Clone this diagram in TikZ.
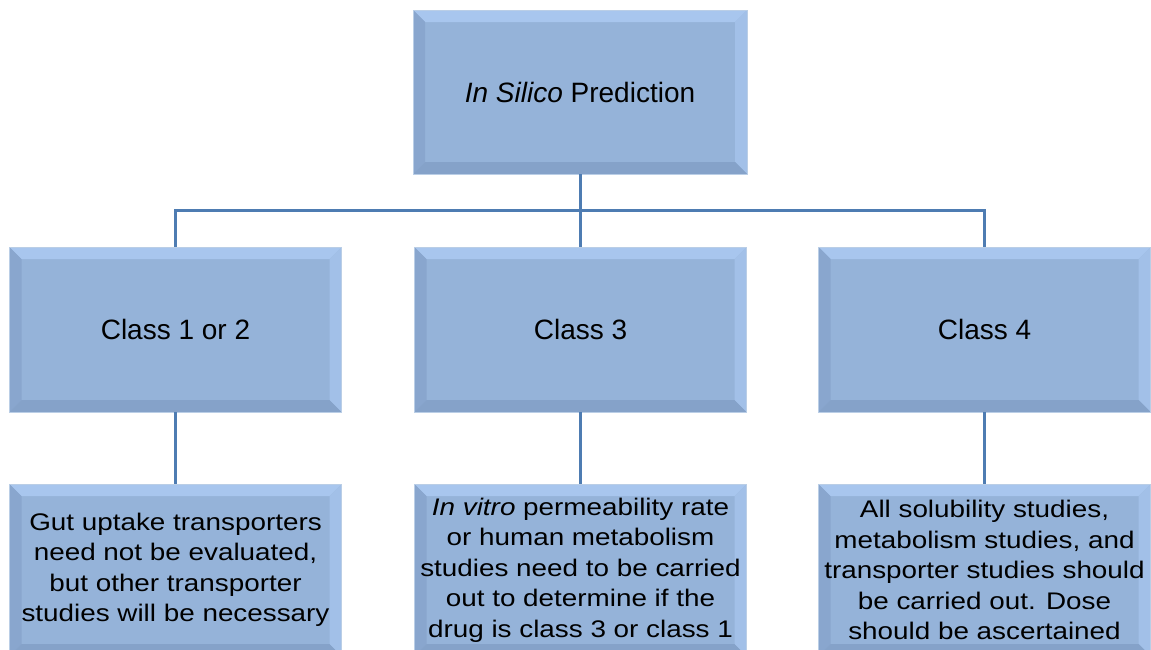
\documentclass[tikz,border=0pt]{standalone}
\usepackage{fontspec}
\setmainfont{Liberation Sans}
\newfontfamily\notefont[FakeStretch=1.16]{Liberation Sans}
\usetikzlibrary{positioning, calc}
\definecolor{bxFill}{HTML}{95B3D9}
\definecolor{bxLight}{HTML}{A8C6EE}
\definecolor{bxSide}{HTML}{A2C0E8}
\definecolor{bxDark}{HTML}{89A6CE}
\definecolor{bxShade}{HTML}{85A2C9}
\definecolor{bxEdge}{HTML}{BACEE6}
\definecolor{bxLink}{HTML}{4E7CB2}
\newcommand{\bv}{12pt}
\tikzset{
  bevel/.style={
    draw=bxEdge, line width=0.8pt, fill=bxFill, align=center, inner sep=2pt,
    path picture={
      \fill[bxLight] (path picture bounding box.north west) -- (path picture bounding box.north east)
        -- ([shift={(-\bv,-\bv)}]path picture bounding box.north east) -- ([shift={(\bv,-\bv)}]path picture bounding box.north west) -- cycle;
      \fill[bxSide] (path picture bounding box.north east) -- (path picture bounding box.south east)
        -- ([shift={(-\bv,\bv)}]path picture bounding box.south east) -- ([shift={(-\bv,-\bv)}]path picture bounding box.north east) -- cycle;
      \fill[bxDark] (path picture bounding box.north west) -- (path picture bounding box.south west)
        -- ([shift={(\bv,\bv)}]path picture bounding box.south west) -- ([shift={(\bv,-\bv)}]path picture bounding box.north west) -- cycle;
      \fill[bxShade] (path picture bounding box.south west) -- (path picture bounding box.south east)
        -- ([shift={(-\bv,\bv)}]path picture bounding box.south east) -- ([shift={(\bv,\bv)}]path picture bounding box.south west) -- cycle;
    }
  },
  predbox/.style={bevel, minimum width=334pt, minimum height=164pt, font=\fontsize{28}{32}\selectfont},
  classbox/.style={bevel, minimum width=332pt, minimum height=165pt, font=\fontsize{28}{32}\selectfont},
  notebox/.style={bevel, minimum width=332pt, minimum height=172pt, font=\notefont\fontsize{24}{30.5}\selectfont},
  link/.style={draw=bxLink, line width=3pt}
}
\begin{document}
\begin{tikzpicture}[x=1pt, y=-1pt]
  \useasboundingbox (0,0) rectangle (1151,649);
  \clip (0,0) rectangle (1151,649);

  % top of the tree
  \node[predbox] (pred) at (580,92) {\textit{In Silico} Prediction};

  % the three classes
  \node[classbox] (c12) at (175.5,329.5) {Class 1 or 2};
  \node[classbox] (c3)  at (580.5,329.5) {Class 3};
  \node[classbox] (c4)  at (984.5,329.5) {Class 4};

  % what has to be done for each class (boxes run off the bottom)
  \node[notebox] (r12) at (175.5,570) {Gut uptake transporters\\need not be evaluated,\\but other transporter\\studies will be necessary};
  \node[notebox] (r3)  at (580.5,570) {\textit{In vitro} permeability rate\\or human metabolism\\studies need to be carried\\out to determine if the\\drug is class 3 or class 1};
  \node[notebox] (r4)  at (984.5,570) {All solubility studies,\\metabolism studies, and\\transporter studies should\\be carried out. Dose\\should be ascertained};

  \draw[link] (pred.south) -- (pred.south |- c3.north);
  \draw[link] (c12.north) -- ++(0,-36.5) -| (c4.north);
  \foreach \a/\b in {c12/r12, c3/r3, c4/r4}
    \draw[link] (\a.south) -- (\b.north);
\end{tikzpicture}
\end{document}
